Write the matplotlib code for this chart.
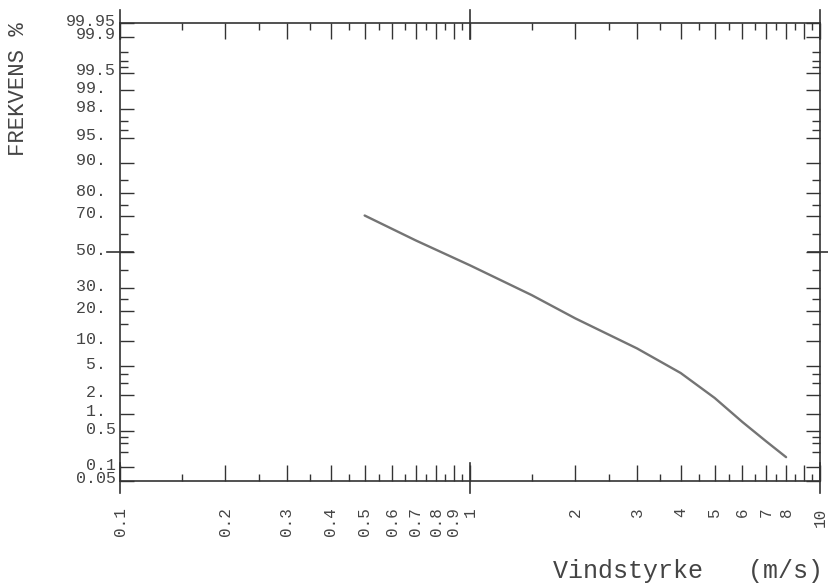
import math
import numpy as np
import matplotlib
matplotlib.use('Agg')
import matplotlib.pyplot as plt
from matplotlib.ticker import FixedLocator, FixedFormatter, NullFormatter
import matplotlib.transforms as mtransforms

# ---------------- data ----------------
wind_speed = [0.5, 0.7, 1.0, 1.5, 2.0, 3.0, 4.0, 5.0, 6.0, 7.0, 8.0]
frequency_pct = [70.0, 56.6, 42.4, 26.8, 17.0, 8.3, 4.1, 1.8, 0.73, 0.33, 0.16]

y_major = [0.05, 0.1, 0.5, 1, 2, 5, 10, 20, 30, 50, 70, 80, 90, 95, 98, 99, 99.5, 99.9, 99.95]
y_labels = ['0.05', '0.1', '0.5', '1. ', '2. ', '5. ', '10. ', '20. ', '30. ', '50. ',
            '70. ', '80. ', '90. ', '95. ', '98. ', '99. ', '99.5', '99.9', '99.95']
y_minor = [0.2, 0.3, 0.4, 3, 4, 15, 25, 40, 60, 75, 85, 96, 97, 99.6, 99.7, 99.8]

x_major = [0.1, 0.2, 0.3, 0.4, 0.5, 0.6, 0.7, 0.8, 0.9, 1, 2, 3, 4, 5, 6, 7, 8, 9, 10]
x_labels = ['0.1', '0.2', '0.3', '0.4', '0.5', '0.6', '0.7', '0.8', '0.9',
            '1', '2', '3', '4', '5', '6', '7', '8', '', '10']
x_minor = [0.15, 0.25, 0.35, 0.45, 0.55, 0.65, 0.75, 0.85, 0.95,
           1.5, 2.5, 3.5, 4.5, 5.5, 6.5, 7.5, 8.5, 9.5]


# ------------- normal probability scale -------------
_A = [-3.969683028665376e+01, 2.209460984245205e+02, -2.759285104469687e+02,
      1.383577518672690e+02, -3.066479806614716e+01, 2.506628277459239e+00]
_B = [-5.447609879822406e+01, 1.615858368580409e+02, -1.556989798598866e+02,
      6.680131188771972e+01, -1.328068155288572e+01]
_C = [-7.784894002430293e-03, -3.223964580411365e-01, -2.400758277161838e+00,
      -2.549732539343734e+00, 4.374664141464968e+00, 2.938163982698783e+00]
_D = [7.784695709041462e-03, 3.224671290700398e-01, 2.445134137142996e+00,
      3.754408661907416e+00]


def _ppf(pct):
    arr = np.asarray(pct, dtype=float)
    shape = arr.shape
    p = np.clip(np.atleast_1d(arr).ravel() / 100.0, 1e-12, 1 - 1e-12)
    z = np.empty_like(p)
    plow = 0.02425
    lo = p < plow
    hi = p > 1 - plow
    mid = ~(lo | hi)
    q = np.sqrt(-2 * np.log(p[lo]))
    z[lo] = (((((_C[0]*q+_C[1])*q+_C[2])*q+_C[3])*q+_C[4])*q+_C[5]) / \
            ((((_D[0]*q+_D[1])*q+_D[2])*q+_D[3])*q+1)
    q = p[mid] - 0.5
    r = q * q
    z[mid] = (((((_A[0]*r+_A[1])*r+_A[2])*r+_A[3])*r+_A[4])*r+_A[5])*q / \
             (((((_B[0]*r+_B[1])*r+_B[2])*r+_B[3])*r+_B[4])*r+1)
    q = np.sqrt(-2 * np.log(1 - p[hi]))
    z[hi] = -(((((_C[0]*q+_C[1])*q+_C[2])*q+_C[3])*q+_C[4])*q+_C[5]) / \
             ((((_D[0]*q+_D[1])*q+_D[2])*q+_D[3])*q+1)
    return z.reshape(shape)


_erf = np.vectorize(math.erf, otypes=[float])


def _cdf(z):
    z = np.asarray(z, dtype=float)
    return 100.0 * 0.5 * (1.0 + _erf(z / math.sqrt(2.0)))


# ---------------- figure ----------------
plt.rcParams['font.family'] = ['Liberation Mono', 'DejaVu Sans Mono']
TXT = '#444444'
AX = '#333333'

fig = plt.figure(figsize=(8.29, 5.83), dpi=100)
ax = fig.add_axes([120/829, 1 - 481/583, 700/829, 458/583])

ax.set_xscale('log')
ax.set_yscale('function', functions=(_ppf, _cdf))
ax.set_xlim(0.1, 10)
ax.set_ylim(0.05, 99.95)

ax.plot(wind_speed, frequency_pct, color='#747474', lw=1.7, solid_capstyle='round',
        solid_joinstyle='round')

# ticks
ax.xaxis.set_major_locator(FixedLocator(x_major))
ax.xaxis.set_major_formatter(FixedFormatter(x_labels))
ax.xaxis.set_minor_locator(FixedLocator(x_minor))
ax.xaxis.set_minor_formatter(NullFormatter())
ax.yaxis.set_major_locator(FixedLocator(y_major))
ax.yaxis.set_major_formatter(FixedFormatter(y_labels))
ax.yaxis.set_minor_locator(FixedLocator(y_minor))
ax.yaxis.set_minor_formatter(NullFormatter())

ax.tick_params(axis='both', which='both', direction='in', color=AX, width=1.0,
               labelcolor=TXT, top=True, right=True)
ax.tick_params(axis='x', which='major', length=11.5, pad=19, labelsize=11.5,
               labelrotation=90)
ax.tick_params(axis='x', which='minor', length=5)
ax.tick_params(axis='y', which='major', length=10, pad=3, labelsize=12)
ax.tick_params(axis='y', which='minor', length=5.5)

off = mtransforms.ScaledTranslation(0, 0.035, fig.dpi_scale_trans)
for lab in ax.get_yticklabels():
    lab.set_transform(lab.get_transform() + off)

for s in ax.spines.values():
    s.set_color(AX)
    s.set_linewidth(1.2)

# crossing ticks at the decades and at 50 %
xt = ax.get_xaxis_transform()
for xv in (0.1, 1, 10):
    ax.plot([xv, xv], [-12/458, 18/458], transform=xt, color=AX, lw=1.2, clip_on=False)
    ax.plot([xv, xv], [1 - 16/458, 1 + 13/458], transform=xt, color=AX, lw=1.2, clip_on=False)
yt = ax.get_yaxis_transform()
ax.plot([-13/700, 13/700], [50, 50], transform=yt, color=AX, lw=1.2, clip_on=False)
ax.plot([1 - 12/700, 1 + 8/700], [50, 50], transform=yt, color=AX, lw=1.2, clip_on=False)

fig.text(19/829, 1 - 22/583, 'FREKVENS %', rotation=90, ha='center', va='top',
         fontsize=16, color=TXT)
fig.text(823/829, 1 - 571/583, 'Vindstyrke   (m/s)', ha='right', va='center',
         fontsize=18, color=TXT)

fig.savefig('out.png', dpi=100, facecolor='white')
